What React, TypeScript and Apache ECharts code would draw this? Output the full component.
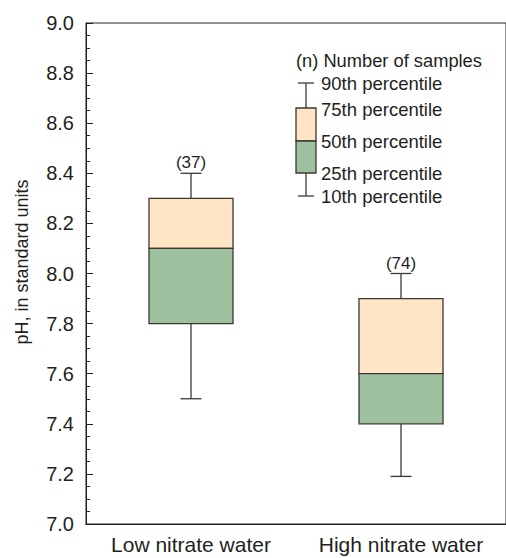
import React, { useEffect, useRef } from "react";
import * as echarts from "echarts";

const categories = ["Low nitrate water", "High nitrate water"];
const p10 = [7.5, 7.19];
const p25 = [7.8, 7.4];
const p50 = [8.1, 7.6];
const p75 = [8.3, 7.9];
const p90 = [8.4, 8.0];
const sampleCounts = [37, 74];
const legendLabels = [
  "90th percentile",
  "75th percentile",
  "50th percentile",
  "25th percentile",
  "10th percentile",
];

const INK = "#231f20";
const BOX_INK = "#3d3833";
const PEACH = "#ffe4c5";
const GREEN = "#9dc19f";
const FONT = "'Liberation Sans', Arial, sans-serif";

export default function App() {
  const ref = useRef<HTMLDivElement>(null);

  useEffect(() => {
    if (!ref.current) return;
    const chart = echarts.init(ref.current, undefined, { renderer: "svg" });

    const data = categories.map((_, i) => [
      i,
      p10[i],
      p25[i],
      p50[i],
      p75[i],
      p90[i],
      sampleCounts[i],
    ]);

    const renderItem = (params: any, api: any) => {
      const idx = api.value(0);
      const band = api.size([1, 0])[0];
      const boxW = band * 0.4;
      const capW = 21;
      const [cx, y10] = api.coord([idx, api.value(1)]);
      const y25 = api.coord([idx, api.value(2)])[1];
      const y50 = api.coord([idx, api.value(3)])[1];
      const y75 = api.coord([idx, api.value(4)])[1];
      const y90 = api.coord([idx, api.value(5)])[1];
      const n = api.value(6);
      const lineStyle = { stroke: BOX_INK, lineWidth: 1.3 };
      return {
        type: "group",
        children: [
          { type: "line", shape: { x1: cx, y1: y90, x2: cx, y2: y75 }, style: lineStyle },
          { type: "line", shape: { x1: cx, y1: y25, x2: cx, y2: y10 }, style: lineStyle },
          { type: "line", shape: { x1: cx - capW / 2, y1: y90, x2: cx + capW / 2, y2: y90 }, style: lineStyle },
          { type: "line", shape: { x1: cx - capW / 2, y1: y10, x2: cx + capW / 2, y2: y10 }, style: lineStyle },
          {
            type: "rect",
            shape: { x: cx - boxW / 2, y: y75, width: boxW, height: y50 - y75 },
            style: { fill: PEACH, stroke: BOX_INK, lineWidth: 1.3 },
          },
          {
            type: "rect",
            shape: { x: cx - boxW / 2, y: y50, width: boxW, height: y25 - y50 },
            style: { fill: GREEN, stroke: BOX_INK, lineWidth: 1.3 },
          },
          {
            type: "text",
            x: cx,
            y: y90 - 2,
            style: {
              text: "(" + n + ")",
              textAlign: "center",
              textVerticalAlign: "bottom",
              fontSize: 17,
              fontFamily: FONT,
              fill: INK,
            },
          },
        ],
      };
    };

    // Legend (explanation) graphic
    const lx = 306; // box center
    const lBoxW = 20;
    const lY90 = 83, lY75 = 108, lY50 = 141, lY25 = 173, lY10 = 196;
    const legendYs = [lY90, lY75 + 1, lY50, lY25, lY10];
    const lStyle = { stroke: BOX_INK, lineWidth: 1.3 };
    const legendGraphic: any[] = [
      {
        type: "text",
        x: 296,
        y: 60,
        style: {
          text: "(n) Number of samples",
          textVerticalAlign: "middle",
          fontSize: 18.3,
          fontFamily: FONT,
          fill: INK,
        },
      },
      { type: "line", shape: { x1: lx, y1: lY90, x2: lx, y2: lY75 }, style: lStyle },
      { type: "line", shape: { x1: lx, y1: lY25, x2: lx, y2: lY10 }, style: lStyle },
      { type: "line", shape: { x1: lx - 8, y1: lY90, x2: lx + 8, y2: lY90 }, style: lStyle },
      { type: "line", shape: { x1: lx - 8, y1: lY10, x2: lx + 8, y2: lY10 }, style: lStyle },
      {
        type: "rect",
        shape: { x: lx - lBoxW / 2, y: lY75, width: lBoxW, height: lY50 - lY75 },
        style: { fill: PEACH, stroke: BOX_INK, lineWidth: 1.3 },
      },
      {
        type: "rect",
        shape: { x: lx - lBoxW / 2, y: lY50, width: lBoxW, height: lY25 - lY50 },
        style: { fill: GREEN, stroke: BOX_INK, lineWidth: 1.3 },
      },
      ...legendLabels.map((t, i) => ({
        type: "text",
        x: 321,
        y: legendYs[i],
        style: {
          text: t,
          textVerticalAlign: "middle",
          fontSize: 18.5,
          fontFamily: FONT,
          fill: INK,
        },
      })),
      {
        type: "text",
        x: 22,
        y: 262,
        rotation: Math.PI / 2,
        style: {
          text: "pH, in standard units",
          textAlign: "center",
          textVerticalAlign: "middle",
          fontSize: 18,
          fontFamily: FONT,
          fill: INK,
        },
      },
    ];

    chart.setOption({
      animation: false,
      grid: {
        left: 86,
        top: 23,
        width: 428,
        height: 501,
        show: true,
        borderColor: INK,
        borderWidth: 1,
        backgroundColor: "transparent",
      },
      xAxis: {
        type: "category",
        data: categories,
        boundaryGap: true,
        axisLine: { show: true, lineStyle: { color: INK, width: 1 } },
        axisTick: { show: false },
        axisLabel: {
          interval: 0,
          hideOverlap: false,
          fontSize: 21,
          fontFamily: FONT,
          color: INK,
          margin: 10,
        },
        splitLine: { show: false },
      },
      yAxis: {
        type: "value",
        min: 7.0,
        max: 9.0,
        interval: 0.2,
        axisLine: { show: true, lineStyle: { color: INK, width: 1 } },
        axisTick: { show: true, inside: true, length: 7, lineStyle: { color: INK } },
        minorTick: { show: true, splitNumber: 4, length: 4, lineStyle: { color: INK } },
        axisLabel: {
          fontSize: 20,
          fontFamily: FONT,
          color: INK,
          margin: 12,
          formatter: (v: number) => v.toFixed(1),
        },
        splitLine: { show: false },
        minorSplitLine: { show: false },
      },
      series: [
        {
          type: "custom",
          renderItem,
          data,
          encode: { x: 0, y: [1, 2, 3, 4, 5] },
          clip: false,
        },
      ],
      graphic: legendGraphic,
    });

    return () => chart.dispose();
  }, []);

  return (
    <div
      style={{
        position: "fixed",
        left: 0,
        top: 0,
        width: 506,
        height: 558,
        overflow: "hidden",
        background: "#fff",
      }}
    >
      <div ref={ref} style={{ width: 506, height: 558 }} />
    </div>
  );
}
